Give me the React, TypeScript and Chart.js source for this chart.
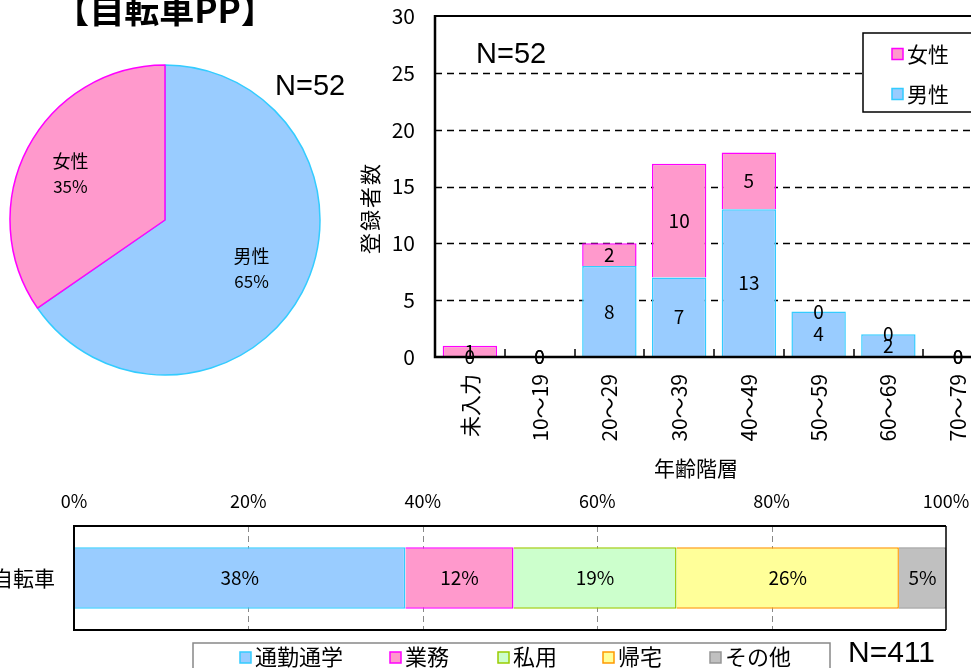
import React, { useEffect, useRef } from 'react';
import { Chart, registerables } from 'chart.js';

Chart.register(...registerables);

const JP = '"Noto Sans CJK JP", "Noto Sans", sans-serif';
const LAT = '"Liberation Sans", Arial, sans-serif';

// ---- data ----
const titleText = '【自転車PP】';
const genderLabels = ['男性', '女性'];
const genderCounts = [34, 18];
const pieNText = 'N=52';

const ageCategories = ['未入力', '10～19', '20～29', '30～39', '40～49', '50～59', '60～69', '70～79'];
const maleCounts = [0, 0, 8, 7, 13, 4, 2, 0];
const femaleCounts = [1, 0, 2, 10, 5, 0, 0, 0];
const countTicks = [0, 5, 10, 15, 20, 25, 30];
const ageNText = 'N=52';
const ageAxisTitle = '年齢階層';
const countAxisTitle = '登録者数';

const purposeCategory = ['自転車'];
const purposeLabels = ['通勤通学', '業務', '私用', '帰宅', 'その他'];
const purposeShares = [38.0, 12.4, 18.7, 25.5, 5.4];
const percentTicks = [0, 20, 40, 60, 80, 100];
const purposeNText = 'N=411';

// ---- colours ----
const BLUE = '#99CCFF', BLUE_B = '#33CCFF';
const PINK = '#FF99CC', PINK_B = '#FF00FF';
const GREEN = '#CCFFCC', GREEN_B = '#99CC00';
const YELLOW = '#FFFF99', YELLOW_B = '#FF9900';
const GRAY = '#C0C0C0', GRAY_B = '#969696';
const purposeFills = [BLUE, PINK, GREEN, YELLOW, GRAY];
const purposeBorders = [BLUE_B, PINK_B, GREEN_B, YELLOW_B, GRAY_B];

function zeroPad(s: any) {
  s.paddingTop = 0;
  s.paddingBottom = 0;
  s.paddingLeft = 0;
  s.paddingRight = 0;
}

function useChart(ref: any, makeConfig: () => any) {
  useEffect(() => {
    if (!ref.current) return;
    const chart = new Chart(ref.current, makeConfig());
    return () => chart.destroy();
  }, []);
}

function PieChart() {
  const ref = useRef<HTMLCanvasElement>(null);
  useChart(ref, () => ({
    type: 'pie',
    data: {
      labels: genderLabels,
      datasets: [{
        data: genderCounts,
        backgroundColor: [BLUE, PINK],
        borderColor: [BLUE_B, PINK_B],
        borderWidth: 1.5,
      }],
    },
    options: {
      responsive: false,
      animation: false,
      radius: 155,
      layout: { padding: { left: 0, right: 40, top: 60, bottom: 60 } },
      plugins: { legend: { display: false }, tooltip: { enabled: false } },
    },
    plugins: [{
      id: 'pieText',
      afterDatasetsDraw(chart: any) {
        const ctx = chart.ctx;
        const meta = chart.getDatasetMeta(0);
        const total = genderCounts.reduce((a, b) => a + b, 0);
        ctx.save();
        ctx.fillStyle = '#000';
        ctx.textAlign = 'center';
        ctx.textBaseline = 'middle';
        meta.data.forEach((arc: any, i: number) => {
          const p = arc.getProps(['x', 'y', 'startAngle', 'endAngle', 'outerRadius'], true);
          const mid = (p.startAngle + p.endAngle) / 2;
          const r = p.outerRadius * 0.66;
          const cx = p.x + Math.cos(mid) * r - 4;
          const cy = p.y + Math.sin(mid) * r + 1;
          ctx.font = `18px ${JP}`;
          ctx.fillText(genderLabels[i], cx, cy - 12);
          ctx.font = `17px ${JP}`;
          ctx.fillText(Math.round((genderCounts[i] / total) * 100) + '%', cx, cy + 13);
        });
        ctx.textBaseline = 'alphabetic';
        ctx.font = `bold 35px ${JP}`;
        ctx.fillText(titleText, 165, 23);
        ctx.textAlign = 'left';
        ctx.font = `29px ${LAT}`;
        ctx.fillText(pieNText, 275, 95);
        ctx.restore();
      },
    }],
  }));
  return <canvas ref={ref} width={370} height={440} style={{ position: 'absolute', left: 0, top: 0, width: 370, height: 440 }} />;
}

function AgeChart() {
  const ref = useRef<HTMLCanvasElement>(null);
  const OX = 340;
  useChart(ref, () => ({
    type: 'bar',
    data: {
      labels: ageCategories,
      datasets: [
        { label: '男性', data: maleCounts, backgroundColor: BLUE, borderColor: BLUE_B, borderWidth: 1.5, categoryPercentage: 1, barPercentage: 0.78 },
        { label: '女性', data: femaleCounts, backgroundColor: PINK, borderColor: PINK_B, borderWidth: 1.5, categoryPercentage: 1, barPercentage: 0.78 },
      ],
    },
    options: {
      responsive: false,
      animation: false,
      layout: { padding: { left: 0, right: 0, top: 16, bottom: 0 } },
      plugins: { legend: { display: false }, tooltip: { enabled: false } },
      scales: {
        x: {
          stacked: true,
          offset: true,
          grid: { display: false, drawTicks: false },
          border: { display: false },
          ticks: { minRotation: 90, maxRotation: 90, autoSkip: false, padding: 17, color: '#000', font: { family: JP, size: 21 } },
          afterFit(s: any) { s.height = 133; zeroPad(s); },
        },
        y: {
          stacked: true,
          min: 0,
          max: 30,
          grid: { display: false, drawTicks: false },
          border: { display: false },
          afterBuildTicks(s: any) { s.ticks = countTicks.map((v) => ({ value: v })); },
          ticks: { padding: 20, color: '#000', font: { family: JP, size: 21 } },
          afterFit(s: any) { s.width = 95; zeroPad(s); },
        },
      },
    },
    plugins: [{
      id: 'ageDeco',
      beforeDatasetsDraw(chart: any) {
        const { ctx, chartArea: a, scales } = chart;
        const y = scales.y;
        ctx.save();
        ctx.strokeStyle = '#000';
        ctx.lineWidth = 1.3;
        ctx.setLineDash([7, 5]);
        countTicks.forEach((v) => {
          if (v === countTicks[0] || v === countTicks[countTicks.length - 1]) return;
          const py = Math.round(y.getPixelForValue(v)) + 0.5;
          ctx.beginPath();
          ctx.moveTo(a.left, py);
          ctx.lineTo(a.right, py);
          ctx.stroke();
        });
        ctx.setLineDash([]);
        ctx.lineWidth = 2;
        const top = Math.round(y.getPixelForValue(countTicks[countTicks.length - 1]));
        ctx.beginPath();
        ctx.moveTo(a.left, top);
        ctx.lineTo(a.right, top);
        ctx.stroke();
        ctx.restore();
      },
      afterDatasetsDraw(chart: any) {
        const { ctx, chartArea: a, scales } = chart;
        const x = scales.x;
        ctx.save();
        // axes
        ctx.strokeStyle = '#000';
        ctx.lineWidth = 2.5;
        ctx.beginPath();
        ctx.moveTo(a.left, a.top - 1);
        ctx.lineTo(a.left, a.bottom);
        ctx.lineTo(a.right, a.bottom);
        ctx.stroke();
        // inside tick marks at category boundaries
        ctx.lineWidth = 1.5;
        for (let i = 1; i < ageCategories.length; i++) {
          const px = Math.round((x.getPixelForValue(i - 1) + x.getPixelForValue(i)) / 2);
          ctx.beginPath();
          ctx.moveTo(px, a.bottom - 8);
          ctx.lineTo(px, a.bottom);
          ctx.stroke();
        }
        // data labels
        ctx.fillStyle = '#000';
        ctx.textAlign = 'center';
        ctx.textBaseline = 'middle';
        ctx.font = `19px ${JP}`;
        chart.data.datasets.forEach((ds: any, di: number) => {
          const meta = chart.getDatasetMeta(di);
          meta.data.forEach((el: any, i: number) => {
            const p = el.getProps(['x', 'y', 'base'], true);
            ctx.fillText(String(ds.data[i]), p.x, (p.y + p.base) / 2);
          });
        });
        // N
        ctx.textAlign = 'left';
        ctx.textBaseline = 'alphabetic';
        ctx.font = `29px ${LAT}`;
        ctx.fillText(ageNText, 476 - OX, 63);
        // axis titles
        ctx.textAlign = 'center';
        ctx.textBaseline = 'middle';
        ctx.font = `21px ${JP}`;
        ctx.fillText(ageAxisTitle, 696 - OX, 468);
        ctx.save();
        ctx.translate(370 - OX, 209);
        ctx.rotate(-Math.PI / 2);
        ctx.font = `21px ${JP}`;
        (ctx as any).letterSpacing = '2px';
        ctx.fillText(countAxisTitle, 1, 0);
        ctx.restore();
        // legend (reverse order)
        const lx = 863 - OX;
        ctx.fillStyle = '#fff';
        ctx.fillRect(lx, 33, 200, 79);
        ctx.strokeStyle = '#000';
        ctx.lineWidth = 1.5;
        ctx.strokeRect(lx, 33, 200, 79);
        const entries = [
          { t: chart.data.datasets[1].label, f: PINK, b: PINK_B, cy: 54 },
          { t: chart.data.datasets[0].label, f: BLUE, b: BLUE_B, cy: 94 },
        ];
        entries.forEach((e) => {
          ctx.fillStyle = e.f;
          ctx.strokeStyle = e.b;
          ctx.lineWidth = 1.5;
          ctx.fillRect(892 - OX, e.cy - 5.5, 11, 11);
          ctx.strokeRect(892 - OX, e.cy - 5.5, 11, 11);
          ctx.fillStyle = '#000';
          ctx.textAlign = 'left';
          ctx.font = `21px ${JP}`;
          ctx.fillText(e.t, 907 - OX, e.cy);
        });
        ctx.restore();
      },
    }],
  }));
  return <canvas ref={ref} width={653} height={490} style={{ position: 'absolute', left: OX, top: 0, width: 653, height: 490 }} />;
}

function PurposeChart() {
  const ref = useRef<HTMLCanvasElement>(null);
  const OY = 480;
  useChart(ref, () => ({
    type: 'bar',
    data: {
      labels: purposeCategory,
      datasets: purposeLabels.map((lab, i) => ({
        label: lab,
        data: [purposeShares[i]],
        backgroundColor: purposeFills[i],
        borderColor: purposeBorders[i],
        borderWidth: 1.5,
        categoryPercentage: 1,
        barPercentage: 0.59,
      })),
    },
    options: {
      indexAxis: 'y',
      responsive: false,
      animation: false,
      layout: { padding: { left: 0, right: 25, top: 0, bottom: 38 } },
      plugins: { legend: { display: false }, tooltip: { enabled: false } },
      scales: {
        x: {
          position: 'top',
          stacked: true,
          min: 0,
          max: 100,
          grid: { display: false, drawTicks: false },
          border: { display: false },
          afterBuildTicks(s: any) { s.ticks = percentTicks.map((v) => ({ value: v })); },
          ticks: { padding: 14, color: '#000', font: { family: JP, size: 18 }, callback: (v: any) => v + '%' },
          afterFit(s: any) { s.height = 46; zeroPad(s); },
        },
        y: {
          stacked: true,
          grid: { display: false, drawTicks: false },
          border: { display: false },
          ticks: { padding: 19, color: '#000', font: { family: JP, size: 21 } },
          afterFit(s: any) { s.width = 74; zeroPad(s); },
        },
      },
    },
    plugins: [{
      id: 'purposeDeco',
      beforeDatasetsDraw(chart: any) {
        const { ctx, chartArea: a, scales } = chart;
        ctx.save();
        ctx.strokeStyle = '#888';
        ctx.lineWidth = 1;
        ctx.setLineDash([6, 4]);
        percentTicks.forEach((v) => {
          if (v === 0 || v === 100) return;
          const px = Math.round(scales.x.getPixelForValue(v)) + 0.5;
          ctx.beginPath();
          ctx.moveTo(px, a.top);
          ctx.lineTo(px, a.bottom);
          ctx.stroke();
        });
        ctx.restore();
      },
      afterDatasetsDraw(chart: any) {
        const { ctx, chartArea: a } = chart;
        ctx.save();
        ctx.strokeStyle = '#000';
        ctx.lineWidth = 2;
        ctx.beginPath();
        ctx.moveTo(a.right, a.top);
        ctx.lineTo(a.left, a.top);
        ctx.lineTo(a.left, a.bottom);
        ctx.lineTo(a.right, a.bottom);
        ctx.stroke();
        ctx.lineWidth = 1.5;
        ctx.beginPath();
        ctx.moveTo(a.right, a.top);
        ctx.lineTo(a.right, a.bottom);
        ctx.stroke();
        // labels
        ctx.fillStyle = '#000';
        ctx.textAlign = 'center';
        ctx.textBaseline = 'middle';
        ctx.font = `19px ${JP}`;
        chart.data.datasets.forEach((ds: any, di: number) => {
          const meta = chart.getDatasetMeta(di);
          meta.data.forEach((el: any, i: number) => {
            const p = el.getProps(['x', 'y', 'base'], true);
            ctx.fillText(Math.round(ds.data[i]) + '%', (p.x + p.base) / 2, p.y);
          });
        });
        // legend
        ctx.fillStyle = '#fff';
        ctx.fillRect(193, 643 - OY, 637, 60);
        ctx.strokeStyle = '#888';
        ctx.lineWidth = 1.5;
        ctx.strokeRect(193, 643 - OY, 637, 60);
        const sx = [240, 390, 498, 603, 710];
        purposeLabels.forEach((lab, i) => {
          ctx.fillStyle = purposeFills[i];
          ctx.strokeStyle = purposeBorders[i];
          ctx.fillRect(sx[i], 652 - OY, 11, 11);
          ctx.strokeRect(sx[i], 652 - OY, 11, 11);
          ctx.fillStyle = '#000';
          ctx.textAlign = 'left';
          ctx.font = `22px ${JP}`;
          ctx.fillText(lab, sx[i] + 15, 657 - OY);
        });
        ctx.textBaseline = 'alphabetic';
        ctx.font = `30px ${LAT}`;
        ctx.fillText(purposeNText, 848, 662 - OY);
        ctx.restore();
      },
    }],
  }));
  return <canvas ref={ref} width={971} height={188} style={{ position: 'absolute', left: 0, top: OY, width: 971, height: 188 }} />;
}

export default function App() {
  return (
    <div style={{ position: 'fixed', left: 0, top: 0, width: 971, height: 668, overflow: 'hidden', background: '#fff' }}>
      <PieChart />
      <AgeChart />
      <PurposeChart />
    </div>
  );
}
